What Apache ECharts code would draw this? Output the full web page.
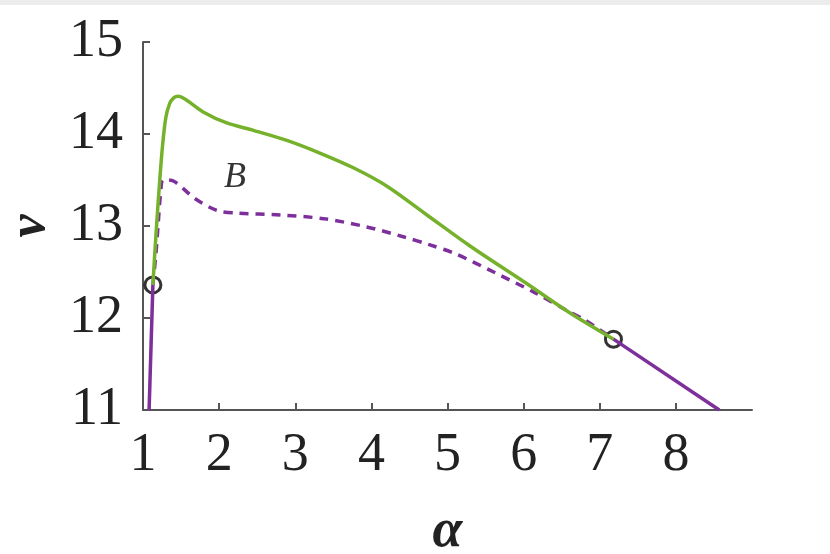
<!DOCTYPE html>
<html>
<head>
<meta charset="utf-8">
<script src="https://cdn.jsdelivr.net/npm/echarts@6/dist/echarts.min.js"></script>
<style>
  html, body { margin: 0; padding: 0; background: #fff; }
  #chart { width: 830px; height: 554px; }
</style>
</head>
<body>
<div id="chart"></div>
<script>
// ticks
const xTicks = [1, 2, 3, 4, 5, 6, 7, 8];
const yTicks = [11, 12, 13, 14, 15];

// green solid branch [alpha, nu]
const greenCurve = [
  [1.13, 12.36], [1.17, 12.9], [1.22, 13.5], [1.26, 13.9], [1.30, 14.18],
  [1.35, 14.33], [1.40, 14.39], [1.46, 14.41], [1.55, 14.38], [1.79, 14.24],
  [2.10, 14.12], [2.45, 14.04], [2.89, 13.93], [3.33, 13.79], [3.77, 13.63],
  [4.21, 13.43], [4.73, 13.12], [5.3, 12.78], [6.03, 12.38], [6.6, 12.06],
  [7.18, 11.77]
];

// purple dashed branch
const dashedCurve = [
  [1.13, 12.36], [1.17, 12.7], [1.2, 13.03], [1.23, 13.35], [1.26, 13.5],
  [1.32, 13.5], [1.42, 13.48], [1.68, 13.30], [1.97, 13.17], [2.23, 13.14],
  [2.80, 13.12], [3.37, 13.08], [3.94, 12.99], [4.43, 12.88], [4.75, 12.80],
  [5.1, 12.7], [5.63, 12.49], [6.16, 12.27], [6.55, 12.09], [6.8, 11.98],
  [7.18, 11.77]
];

// purple solid pieces
const purpleLeft = [[1.08, 11.0], [1.13, 12.36]];
const purpleRight = [[7.18, 11.77], [8.57, 11.0]];

// bifurcation points (open circles)
const circles = [[1.13, 12.36], [7.18, 11.77]];

// region label
const regionLabel = [[2.21, 13.53]];

const GREEN = '#76b12c';
const PURPLE = '#7d2f9b';
const serif = "'Liberation Serif', 'Times New Roman', serif";

const chart = echarts.init(document.getElementById('chart'));
chart.setOption({
  backgroundColor: '#fff',
  animation: false,
  graphic: [{
    type: 'rect', left: 0, top: 0,
    shape: { width: 830, height: 5 },
    style: { fill: '#ececec' }
  }],
  grid: { left: 143, right: 78, top: 42, bottom: 144, outerBoundsMode: 'none', containLabel: false },
  xAxis: {
    type: 'value', min: 1, max: 9, interval: 1,
    name: 'α', nameLocation: 'middle', nameGap: 95,
    nameTextStyle: { fontFamily: serif, fontSize: 54, fontStyle: 'italic', fontWeight: 'bold', color: '#222' },
    axisLine: { lineStyle: { color: '#555', width: 2 } },
    axisTick: { inside: true, length: 7, customValues: xTicks, lineStyle: { color: '#555', width: 2 } },
    axisLabel: { customValues: xTicks, margin: 19, fontFamily: serif, fontSize: 54, color: '#222' },
    splitLine: { show: false }
  },
  yAxis: {
    type: 'value', min: 11, max: 15, interval: 1,
    name: 'ν', nameLocation: 'middle', nameGap: 86,
    nameTextStyle: { fontFamily: serif, fontSize: 52, fontStyle: 'italic', fontWeight: 'bold', color: '#222' },
    axisLine: { show: true, lineStyle: { color: '#555', width: 2 } },
    axisTick: { show: true, inside: true, length: 7, customValues: yTicks, lineStyle: { color: '#555', width: 2 } },
    axisLabel: { customValues: yTicks, margin: 20, fontFamily: serif, fontSize: 54, color: '#222' },
    splitLine: { show: false }
  },
  series: [
    {
      type: 'line', data: dashedCurve, smooth: 0.3, showSymbol: false,
      lineStyle: { color: PURPLE, width: 3.5, type: [9, 7] }
    },
    {
      type: 'line', data: purpleLeft, showSymbol: false,
      lineStyle: { color: PURPLE, width: 3.5 }
    },
    {
      type: 'line', data: purpleRight, showSymbol: false,
      lineStyle: { color: PURPLE, width: 3.5 }
    },
    {
      type: 'line', data: greenCurve, smooth: 0.3, showSymbol: false,
      lineStyle: { color: GREEN, width: 3.5 }
    },
    {
      type: 'scatter', data: circles, symbol: 'circle', symbolSize: 16,
      itemStyle: { color: 'rgba(0,0,0,0)', borderColor: '#000', borderWidth: 3 }
    },
    {
      type: 'scatter', data: regionLabel, symbolSize: 0,
      label: {
        show: true, position: 'inside', formatter: 'B',
        fontFamily: serif, fontStyle: 'italic', fontSize: 36, color: '#000'
      }
    }
  ]
});
</script>
</body>
</html>
